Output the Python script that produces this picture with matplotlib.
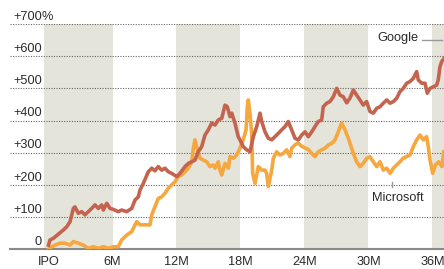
import matplotlib
matplotlib.use("Agg")
import matplotlib.pyplot as plt

plt.rcParams['font.family'] = ['Liberation Sans', 'DejaVu Sans']

# Months since IPO and percentage change
google_months = [0.0, 0.14, 0.45, 1.39, 1.71, 2.02, 2.33, 2.48, 2.79, 3.11, 3.42, 3.73, 4.05, 4.36,
                 4.67, 4.99, 5.14, 5.46, 5.77, 6.08, 6.54, 6.86, 7.33, 7.80, 8.11, 8.42, 8.58,
                 8.89, 9.36, 9.68, 9.98, 10.29, 10.61, 10.92, 11.23, 11.55, 12.02, 12.33, 12.80,
                 13.11, 13.43, 13.73, 14.04, 14.36, 14.67, 14.98, 15.30, 15.61, 15.92, 16.24,
                 16.55, 16.76, 17.02, 17.18, 17.48, 17.79, 17.95, 18.26, 18.58, 18.89, 19.20,
                 19.52, 19.83, 19.99, 20.30, 20.61, 20.93, 21.23, 21.54, 21.86, 22.17, 22.48,
                 22.80, 23.11, 23.42, 23.74, 24.05, 24.36, 24.68, 24.98, 25.29, 25.61, 25.76,
                 26.08, 26.39, 26.70, 27.02, 27.33, 27.64, 27.96, 28.27, 28.58, 28.89, 29.20,
                 29.51, 29.83, 30.14, 30.45, 30.77, 31.08, 31.39, 31.71, 32.02, 32.33, 32.64,
                 32.95, 33.26, 33.58, 33.89, 34.20, 34.52, 34.67, 34.99, 35.30, 35.51, 35.77,
                 36.08, 36.39, 36.54, 36.70, 36.86, 37.08]
google_pct = [13, 29, 34, 60, 70, 86, 127, 132, 112, 117, 107, 117, 127, 138,
              127, 138, 122, 143, 127, 124, 117, 122, 117, 127, 153, 163, 184,
              205, 241, 252, 244, 257, 246, 252, 241, 236, 226, 236, 257,
              267, 272, 277, 303, 319, 355, 371, 392, 386, 402, 407,
              448, 443, 412, 423, 392, 350, 340, 319, 309, 303, 350,
              381, 423, 397, 365, 345, 340, 350, 360, 371, 381, 397,
              371, 345, 340, 355, 365, 350, 365, 381, 397, 402, 443,
              454, 459, 474, 500, 479, 474, 455, 470, 495, 479, 464,
              448, 459, 428, 423, 438, 443, 454, 464, 454, 459, 469,
              490, 500, 516, 521, 531, 552, 526, 516, 516, 485, 500,
              505, 510, 526, 567, 583, 593]

msft_months = [0.0, 0.30, 0.61, 1.08, 1.55, 2.02, 2.33, 2.79, 3.26, 3.73, 4.20, 4.67, 5.14, 5.61,
               6.08, 6.54, 6.86, 7.33, 7.80, 8.27, 8.58, 8.89, 9.21, 9.52, 9.68, 9.98, 10.29,
               10.61, 10.92, 11.23, 11.55, 11.86, 12.17, 12.48, 12.80, 13.11, 13.43, 13.58,
               13.73, 13.89, 14.20, 14.51, 14.83, 15.14, 15.45, 15.61, 15.92, 16.08, 16.24,
               16.55, 16.86, 17.02, 17.33, 17.64, 17.95, 18.26, 18.52, 18.64, 18.73, 18.89,
               19.05, 19.14, 19.36, 19.67, 19.99, 20.30, 20.45, 20.61, 20.93, 21.08, 21.39,
               21.70, 22.01, 22.33, 22.64, 22.80, 23.11, 23.42, 23.74, 24.05, 24.36, 24.68,
               24.98, 25.29, 25.61, 25.92, 26.23, 26.55, 26.86, 27.17, 27.48, 27.80, 28.11,
               28.27, 28.58, 28.89, 29.20, 29.51, 29.83, 30.14, 30.45, 30.77, 31.08, 31.39,
               31.71, 32.02, 32.33, 32.64, 32.95, 33.26, 33.58, 33.89, 34.20, 34.52, 34.83,
               35.14, 35.45, 35.61, 35.77, 36.02, 36.27, 36.58, 36.89, 37.05]
msft_pct = [0, 8, 13, 19, 19, 13, 24, 19, 13, 3, 8, 3, 8, 3,
            8, 8, 29, 44, 55, 86, 76, 76, 76, 76, 107, 132, 158,
            163, 174, 190, 200, 210, 226, 231, 241, 252, 272, 314,
            340, 319, 283, 277, 272, 257, 262, 252, 272, 246, 231,
            267, 252, 288, 283, 293, 314, 340, 371, 443, 464, 420,
            360, 236, 205, 257, 246, 246, 236, 195, 246, 283, 303,
            293, 298, 309, 288, 314, 325, 330, 320, 315, 310, 298,
            288, 303, 309, 314, 324, 329, 340, 365, 392, 371, 345,
            329, 298, 272, 257, 267, 283, 288, 272, 257, 272, 246,
            252, 236, 252, 262, 272, 283, 288, 293, 319, 340, 355,
            340, 350, 319, 277, 236, 262, 272, 257, 303]

band_starts = [-0.4, 12, 24, 36]
band_ends = [6, 18, 30, 40]
y_gridvals = [100, 200, 300, 400, 500, 600, 700]
y_labels = ['+100', '+200', '+300', '+400', '+500', '+600', '+700']
x_tickpos = [0, 6, 12, 18, 24, 30, 36]
x_ticklabels = ['IPO', '6M', '12M', '18M', '24M', '30M', '36M']

W, H = 444, 269
fig = plt.figure(figsize=(W / 100, H / 100), dpi=100)
ax = fig.add_axes([10 / W, (H - 249.3) / H, 434 / W, (249.3 - 24) / H])
ax.set_xlim(-3.61, 37.08)
ax.set_ylim(0, 700)
ax.axis('off')

band_color = '#E4E4DA'
for s, e in zip(band_starts, band_ends):
    ax.axvspan(s, e, ymin=0, ymax=1, color=band_color, lw=0, zorder=0)

for v in y_gridvals:
    ax.axhline(v, color='#666666', lw=0.8, ls=(0, (1, 1.3)), zorder=1)
ax.axhline(0, color='#8a8a8a', lw=1.5, zorder=2, clip_on=False)

ax.plot(msft_months, msft_pct, color='#F6A73D', lw=2.6, zorder=3, solid_joinstyle='round')
ax.plot(google_months, google_pct, color='#C4644F', lw=2.6, zorder=4, solid_joinstyle='round')

txt_color = '#2a2a2a'
fs = 9.2
label_x = -0.61
for v, lab in zip(y_gridvals, y_labels):
    ax.text(label_x, v + 13.7, lab, ha='right', va='baseline', fontsize=fs, color=txt_color, zorder=5)
ax.text(label_x, 700 + 13.7, '%', ha='left', va='baseline', fontsize=fs, color=txt_color,
        zorder=5, clip_on=False)
ax.text(label_x, 13.7, '0', ha='right', va='baseline', fontsize=fs, color=txt_color, zorder=5)

for p, lab in zip(x_tickpos, x_ticklabels):
    ax.text(p, -12.4 / 225.3, lab, transform=ax.get_xaxis_transform(), ha='center', va='center',
            fontsize=fs, color=txt_color, clip_on=False)

# Annotations
ax.text(34.67, 655.7, 'Google', ha='right', va='center', fontsize=fs, color=txt_color, zorder=6)
ax.plot([34.99, 36.86], [650.4, 650.4], color='#999999', lw=1.0, zorder=6)
ax.text(32.77, 158.5, 'Microsoft', ha='center', va='center', fontsize=fs, color=txt_color, zorder=6)
ax.plot([32.17, 32.17], [194.5, 210], color='#999999', lw=1.0, zorder=6)

fig.savefig('out.png', dpi=100)
